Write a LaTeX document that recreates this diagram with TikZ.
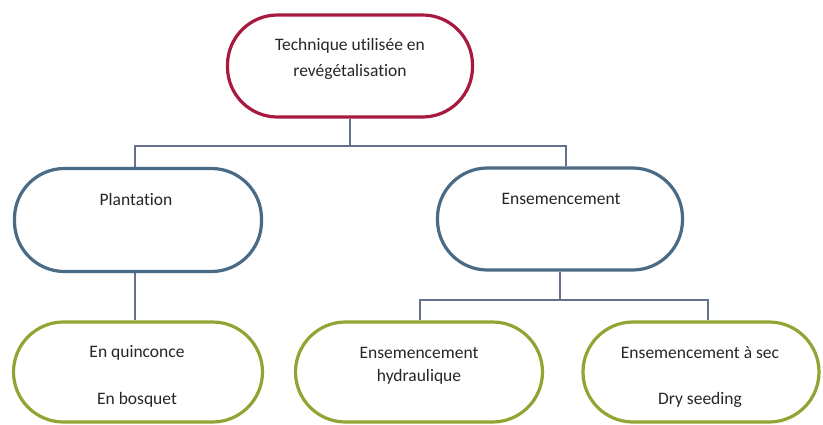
\documentclass[tikz,border=0pt]{standalone}
\usepackage{fontspec}
\setmainfont[Ligatures=NoCommon]{Carlito}
\definecolor{redc}{HTML}{A8193F}
\definecolor{bluec}{HTML}{4A6B86}
\definecolor{greenc}{HTML}{8FA633}
\definecolor{linec}{HTML}{656F8E}
\tikzset{
  pill/.style={draw, line width=3.2pt, rounded corners=50pt, fill=white, inner sep=0pt},
  redpill/.style={pill, draw=redc},
  bluepill/.style={pill, draw=bluec},
  greenpill/.style={pill, draw=greenc},
  lbl/.style={font=\fontsize{17.5}{19}\selectfont, text=black!85, inner sep=0pt, anchor=center},
  conn/.style={draw=linec, line width=1.3pt}
}
\begin{document}
\begin{tikzpicture}[x=1pt,y=-1pt]
\useasboundingbox[fill=white] (0,0) rectangle (823,424);
% shapes
\node[redpill, minimum width=245pt, minimum height=102pt] (top) at (350,66) {};
\node[bluepill, minimum width=247pt, minimum height=103pt] (plant) at (138,220) {};
\node[bluepill, minimum width=245pt, minimum height=102pt] (ens) at (560,219) {};
\node[greenpill, minimum width=249pt, minimum height=100pt] (quin) at (138,372) {};
\node[greenpill, minimum width=247pt, minimum height=100pt] (hyd) at (419,372) {};
\node[greenpill, minimum width=236pt, minimum height=100pt] (sec) at (701,372) {};
% texts
\node[lbl] (t1) at (350,46) {Technique utilisée en};
\node[lbl] (t2) at (350,72) {revégétalisation};
\node[lbl] (t3) at (136,199) {Plantation};
\node[lbl] (t4) at (561,199) {Ensemencement};
\node[lbl] (t5) at (137,353) {En quinconce};
\node[lbl] (t6) at (137,400) {En bosquet};
\node[lbl] (t7) at (419,353) {Ensemencement};
\node[lbl] (t8) at (419,377) {hydraulique};
\node[lbl] (t9) at (700,353) {Ensemencement à sec};
\node[lbl] (t10) at (700,400) {Dry seeding};
% connectors
\coordinate (j1) at (350,146);
\coordinate (j2) at (560,300);
\draw[conn] (top.south) -- (j1);
\draw[conn] (j1) -| (plant.north -| 135,0);
\draw[conn] (j1) -| (ens.north -| 566,0);
\draw[conn] (plant.south -| 135,0) -- (quin.north -| 135,0);
\draw[conn] (ens.south) -- (j2);
\draw[conn] (j2) -| (hyd.north -| 420,0);
\draw[conn] (j2) -| (sec.north -| 708,0);
\end{tikzpicture}
\end{document}
